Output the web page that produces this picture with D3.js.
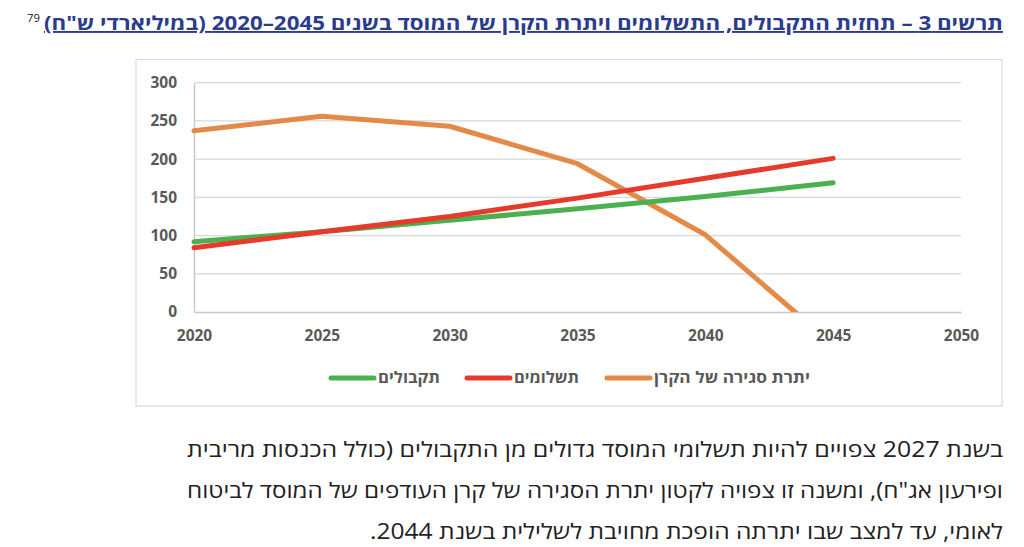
<!DOCTYPE html>
<html lang="he">
<head>
<meta charset="utf-8">
<script src="https://cdn.jsdelivr.net/npm/d3@7"></script>
<style>
  html, body { margin: 0; padding: 0; background: #fff; }
  svg { display: block; }
</style>
</head>
<body>
<svg id="chart" width="1024" height="547"></svg>
<script>
// ---- data ----
const years = [2020, 2025, 2030, 2035, 2040, 2045];
const receipts = [92, 105, 120, 135, 151, 169];      // תקבולים
const payments = [84, 105, 125, 149, 175, 201];      // תשלומים
const fundBalance = [237, 256, 243, 194, 101, -43];  // יתרת סגירה של הקרן
const xTicks = [2020, 2025, 2030, 2035, 2040, 2045, 2050];
const yTicks = [0, 50, 100, 150, 200, 250, 300];
const seriesNames = ["תקבולים", "תשלומים", "יתרת סגירה של הקרן"];
const seriesColors = ["#4caf50", "#e53a2c", "#e48a48"];
const titleText = "תרשים 3 – תחזית התקבולים, התשלומים ויתרת הקרן של המוסד בשנים \u202A2020–2045\u202C (במיליארדי ש\"ח)";
const footnote = "79";
const bodyLines = [
  "בשנת 2027 צפויים להיות תשלומי המוסד גדולים מן התקבולים (כולל הכנסות מריבית",
  "ופירעון אג\"ח), ומשנה זו צפויה לקטון יתרת הסגירה של קרן העודפים של המוסד לביטוח",
  "לאומי, עד למצב שבו יתרתה הופכת מחויבת לשלילית בשנת 2044."
];

const svg = d3.select("#chart");
const font = "'Open Sans', 'Noto Sans', 'DejaVu Sans', sans-serif";

// title
svg.append("text")
  .attr("x", 1003).attr("y", 30)
  .attr("direction", "rtl").attr("text-anchor", "start")
  .attr("font-family", font).attr("font-weight", "bold").attr("font-size", 19)
  .attr("fill", "#2c3c8c")
  .attr("textLength", 959).attr("lengthAdjust", "spacingAndGlyphs")
  .style("text-decoration", "underline")
  .text(titleText);
svg.append("text")
  .attr("x", 27).attr("y", 22)
  .attr("font-family", font).attr("font-size", 11).attr("fill", "#222")
  .attr("textLength", 13).attr("lengthAdjust", "spacingAndGlyphs")
  .text(footnote);

// frame
svg.append("rect")
  .attr("x", 136).attr("y", 59.5).attr("width", 866).attr("height", 346.5)
  .attr("fill", "#fff").attr("stroke", "#d9d9d9").attr("stroke-width", 1.2);

const x = d3.scaleLinear().domain([2020, 2050]).range([194, 961]);
const y = d3.scaleLinear().domain([0, 300]).range([312, 82.7]);

// gridlines
svg.append("g").selectAll("line").data(yTicks.filter(d => d > 0)).join("line")
  .attr("x1", x(2020)).attr("x2", x(2050))
  .attr("y1", d => y(d)).attr("y2", d => y(d))
  .attr("stroke", "#d9d9d9").attr("stroke-width", 1.2);

// axes
const yAxis = svg.append("g").attr("transform", `translate(${x(2020)},0)`)
  .call(d3.axisLeft(y).tickValues(yTicks).tickSize(0).tickPadding(17));
const xAxis = svg.append("g").attr("transform", `translate(0,${y(0)})`)
  .call(d3.axisBottom(x).tickValues(xTicks).tickFormat(d3.format("d")).tickSize(0).tickPadding(18));
[yAxis, xAxis].forEach(g => {
  g.select(".domain").attr("stroke", "#c8c8c8").attr("stroke-width", 1.4);
  g.selectAll("text").attr("font-family", font).attr("font-weight", "bold")
    .attr("font-size", 15.5).attr("fill", "#595959");
});

// clip
svg.append("clipPath").attr("id", "plotclip").append("rect")
  .attr("x", x(2020) - 6).attr("y", y(300) - 6)
  .attr("width", x(2050) - x(2020) + 12).attr("height", y(0) - y(300) + 6);

const line = d3.line().x((d, i) => x(years[i])).y(d => y(d));
const allSeries = [receipts, payments, fundBalance];
const order = [2, 0, 1];
svg.append("g").attr("clip-path", "url(#plotclip)")
  .selectAll("path").data(order).join("path")
  .attr("d", k => line(allSeries[k]))
  .attr("fill", "none")
  .attr("stroke", k => seriesColors[k])
  .attr("stroke-width", 5)
  .attr("stroke-linecap", "round")
  .attr("stroke-linejoin", "round");

// legend
const legendRight = [440, 579, 810];
const legendWidths = [62, 65, 156];
const lg = svg.append("g");
seriesNames.forEach((name, i) => {
  lg.append("text")
    .attr("x", legendRight[i]).attr("y", 383)
    .attr("direction", "rtl").attr("text-anchor", "start")
    .attr("font-family", font).attr("font-weight", "bold").attr("font-size", 15.5)
    .attr("fill", "#595959")
    .attr("textLength", legendWidths[i]).attr("lengthAdjust", "spacingAndGlyphs")
    .text(name);
  const left = legendRight[i] - legendWidths[i] - 4;
  lg.append("line")
    .attr("x1", left - 43).attr("x2", left)
    .attr("y1", 378).attr("y2", 378)
    .attr("stroke", seriesColors[i]).attr("stroke-width", 5)
    .attr("stroke-linecap", "round");
});

// body text
const lineWidths = [816, 816, 633];
bodyLines.forEach((s, i) => {
  svg.append("text")
    .attr("x", 1003).attr("y", 457 + i * 41)
    .attr("direction", "rtl").attr("text-anchor", "start")
    .attr("font-family", font).attr("font-size", 21)
    .attr("fill", "#222")
    .attr("textLength", lineWidths[i]).attr("lengthAdjust", "spacingAndGlyphs")
    .text(s);
});
</script>
</body>
</html>
